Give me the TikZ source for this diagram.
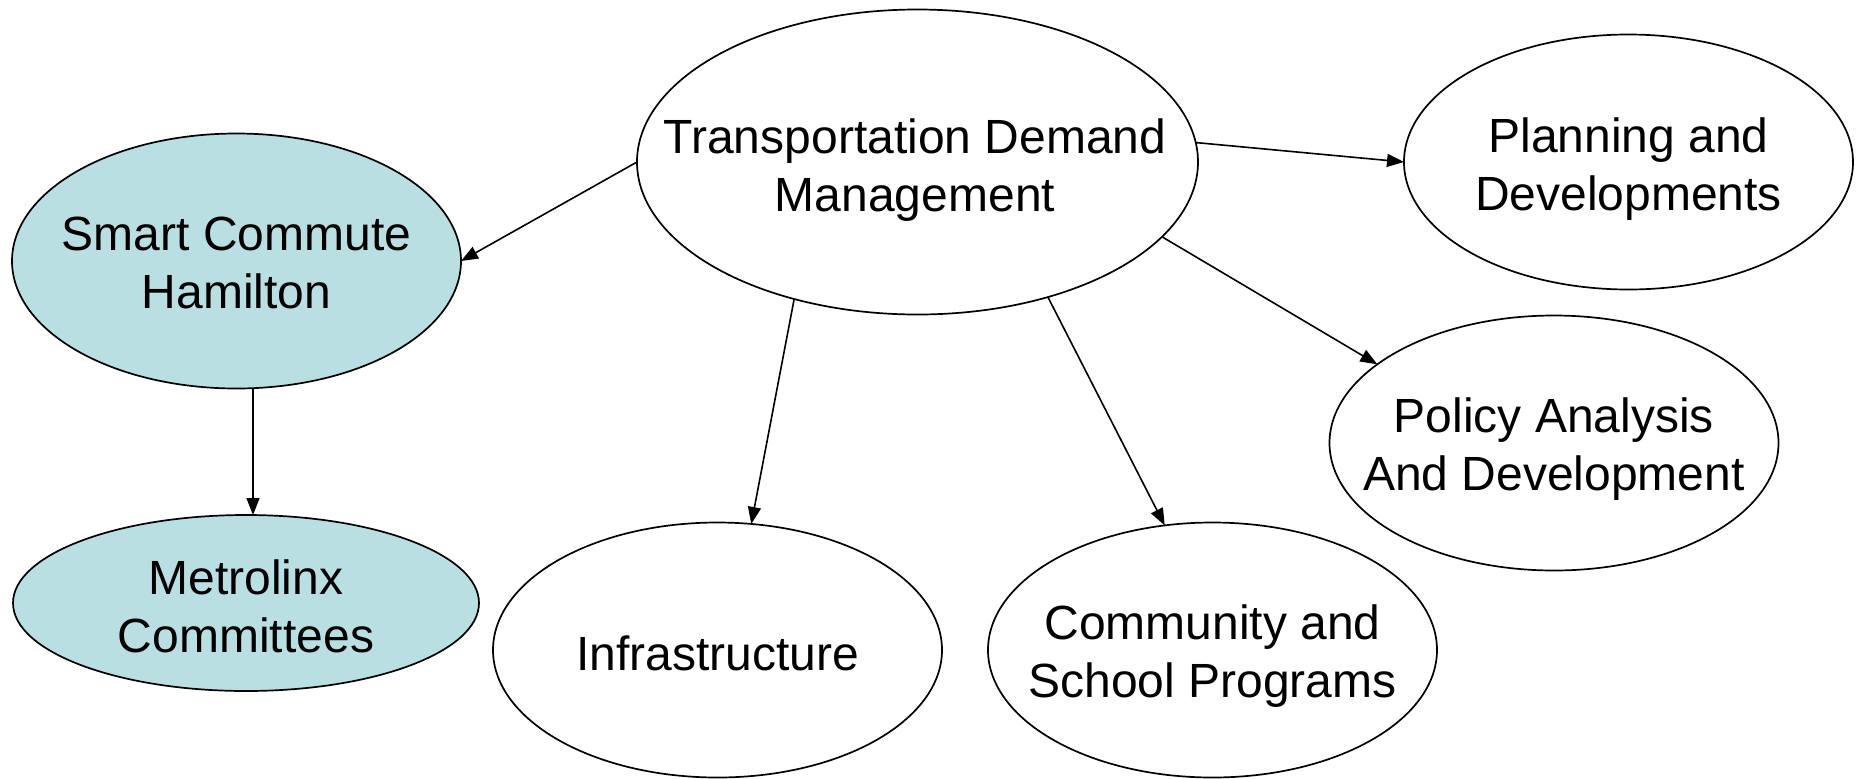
\documentclass[tikz,border=0pt]{standalone}
\usepackage{fontspec}
\setmainfont{Liberation Sans}
\usetikzlibrary{shapes.geometric,arrows.meta}
\definecolor{bubblue}{RGB}{185,223,227}
\tikzset{
  bub/.style={ellipse, draw=black, line width=0.85pt, inner sep=0pt, outer sep=0pt,
              minimum width=224.5pt, minimum height=127.5pt},
  bigbub/.style={bub, minimum width=280.5pt, minimum height=152.5pt},
  bluebub/.style={fill=bubblue},
  lbl/.style={align=center, inner sep=0pt, font=\fontsize{24}{29}\selectfont},
  arr/.style={draw=black, line width=0.8pt, -{Triangle[length=8.5pt,width=6.5pt]}}
}
\begin{document}
\begin{tikzpicture}[x=0.5pt, y=-0.5pt]
\useasboundingbox (0,0) rectangle (1860,778);
% ellipses
\node[bigbub] (tdm) at (917.5,162) {};
\node[bub, bluebub] (sc) at (236.5,261) {};
\node[bub, bluebub, minimum width=233pt, minimum height=88pt] (mx) at (246,603) {};
\node[bub] (inf) at (717.5,650) {};
\node[bub] (com) at (1212.5,650) {};
\node[bub] (pol) at (1554,443) {};
\node[bub] (pla) at (1628.5,162) {};
% labels
\node[lbl] (tdmt) at (915,170) {Transportation Demand\\Management};
\node[lbl] (sct) at (236.5,263) {Smart Commute\\Hamilton};
\node[lbl] (mxt) at (246,606) {Metrolinx\\Committees};
\node[lbl] (inft) at (717.5,653) {Infrastructure};
\node[lbl] (comt) at (1212.5,656) {Community and\\School Programs};
\node[lbl] (polt) at (1554,449) {Policy Analysis\\And Development};
\node[lbl] (plat) at (1628.5,169) {Planning and\\Developments};
% connectors
\coordinate (lx) at (253,0);
\draw[arr] (tdm.west) -- (sc.east);
\draw[arr] (sc.south -| lx) -- (mx.north -| lx);
\draw[arr] (tdm.228.7) -- (inf.75.75);
\draw[arr] (tdm.314.5) -- (com.111.3);
\draw[arr] (tdm.4.3) -- (pla.west);
\draw[arr] (tdm.343.5) -- (pol.156);
\end{tikzpicture}
\end{document}
